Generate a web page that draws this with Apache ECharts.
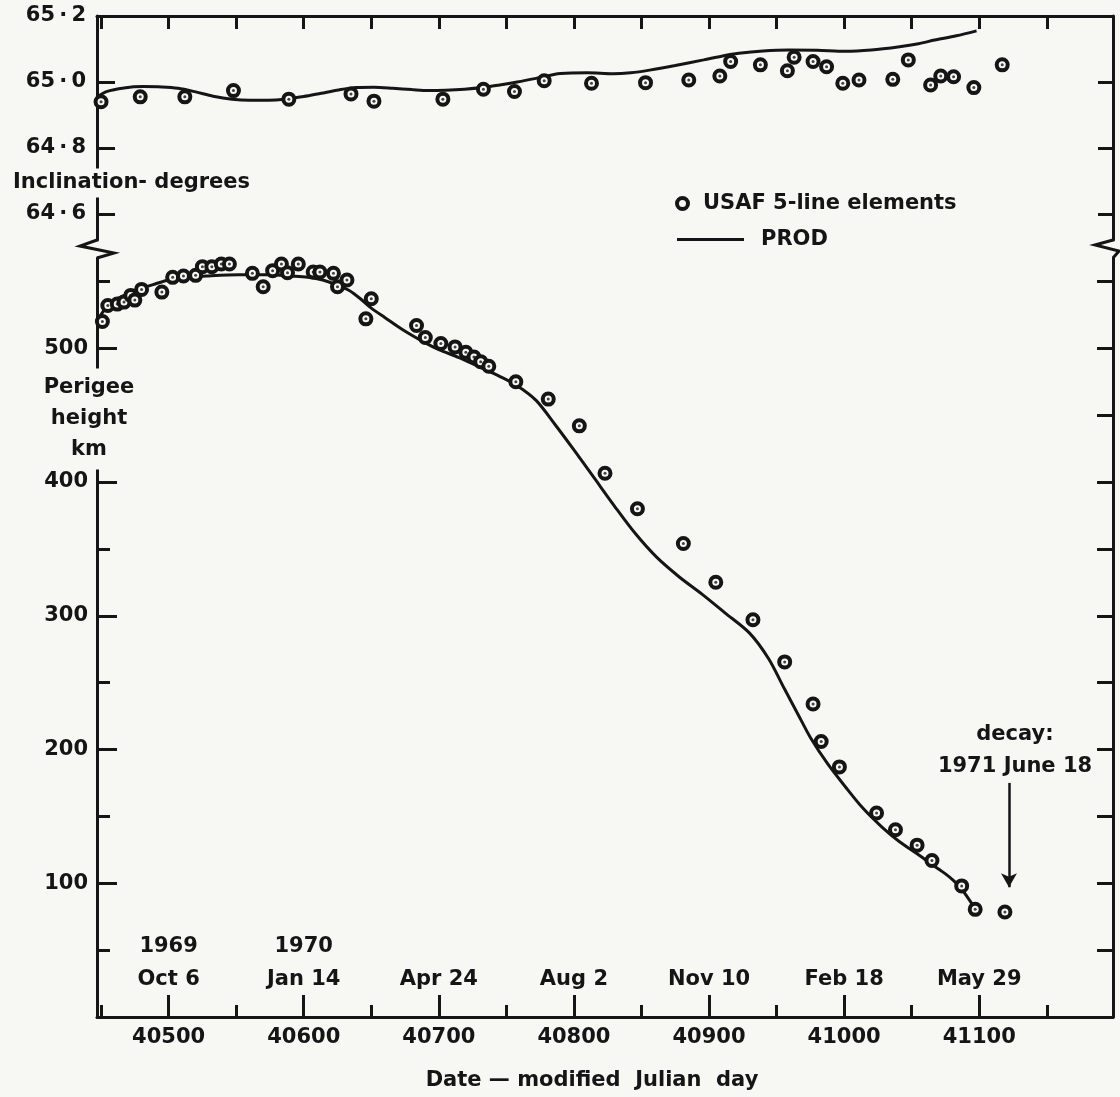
<!DOCTYPE html>
<html><head><meta charset="utf-8">
<script src="https://cdn.jsdelivr.net/npm/echarts@6/dist/echarts.min.js"></script>
<style>html,body{margin:0;padding:0;background:#f7f7f4}#c{width:1120px;height:1097px}</style>
</head><body><div id="c"></div>
<script>
// ---------------- data ----------------
const inclObsDay = [40450, 40479, 40512, 40548, 40589, 40635, 40652, 40703, 40733, 40756, 40778,
  40813, 40853, 40885, 40908, 40916, 40938, 40958, 40963, 40977, 40987, 40999, 41011, 41036, 41047.5,
  41064, 41071.5, 41081, 41096, 41117];
const inclObsDeg = [64.940, 64.955, 64.955, 64.974, 64.948, 64.964, 64.942, 64.948, 64.978, 64.971, 65.004,
  64.996, 64.998, 65.006, 65.018, 65.062, 65.052, 65.034, 65.075, 65.062, 65.046, 64.996, 65.006, 65.008, 65.067,
  64.991, 65.018, 65.016, 64.983, 65.052];

const inclFitDay = [40447, 40454, 40467, 40481, 40495, 40507, 40520, 40533, 40547, 40560, 40574, 40586,
  40600, 40613, 40626, 40639, 40652, 40666, 40680, 40692, 40705, 40719, 40732, 40745, 40758, 40772, 40790,
  40810, 40829, 40842, 40856, 40875, 40896, 40910, 40922, 40940, 40959, 40980, 41001, 41020, 41041, 41055,
  41067, 41083, 41098];
const inclFitDeg = [64.955, 64.971, 64.982, 64.986, 64.985, 64.981, 64.970, 64.957, 64.948, 64.945, 64.945, 64.948,
  64.956, 64.966, 64.976, 64.983, 64.984, 64.981, 64.977, 64.974, 64.975, 64.978, 64.983, 64.991, 65.000, 65.011, 65.026,
  65.028, 65.025, 65.028, 65.036, 65.050, 65.067, 65.079, 65.087, 65.094, 65.097, 65.096, 65.093, 65.097, 65.107, 65.116,
  65.127, 65.140, 65.155];

const periObsDay = [40451, 40455, 40462, 40467, 40472, 40475, 40480, 40495, 40503, 40511, 40520, 40525, 40532,
  40539, 40545, 40562, 40570, 40577, 40583.5, 40588, 40596, 40607, 40612, 40622, 40625, 40632, 40646, 40650,
  40683.5, 40690, 40701.5, 40712, 40720, 40726, 40731, 40737, 40757, 40781, 40804, 40823, 40847, 40881, 40905,
  40932.5, 40956, 40977, 40983, 40996.5, 41024, 41038, 41054, 41065, 41087, 41097, 41119];
const periObsKm = [520, 532, 533, 534.5, 539.5, 536, 544, 542, 553, 554, 554.5, 561, 561,
  563, 563, 556, 546, 558, 563, 556.5, 563, 557, 557, 556, 546, 551, 522, 537,
  517, 508, 503.5, 501, 497, 493.5, 490, 486.5, 475, 462, 442, 406.5, 380, 354, 325,
  297, 265.5, 234, 206, 187, 152.5, 140, 128.5, 117, 98, 80.5, 78.5];

const periFitDay = [40448, 40456, 40466, 40478, 40490, 40500, 40515, 40528, 40552, 40575, 40590, 40603, 40614,
  40625, 40634, 40642, 40650, 40660, 40673, 40690, 40700, 40715, 40730, 40745, 40758, 40772, 40786, 40800,
  40815, 40830, 40845, 40861, 40878, 40895, 40912, 40930, 40944, 40956, 40966, 40975, 40988, 41001, 41014,
  41028, 41041, 41054, 41065, 41075, 41081, 41086, 41091, 41097];
const periFitKm = [522, 533, 539, 544, 548, 551, 553, 554, 555, 555, 554, 553, 551,
  547, 543, 537, 530, 523, 514, 504, 499, 493, 486, 479, 472, 461, 443, 424,
  403, 382, 362, 344, 329, 316, 302, 287, 268, 245, 226, 209, 189, 172, 156,
  142, 131, 122, 114, 107, 102, 97, 90, 81];

const mjdMajorTicks = [40500, 40600, 40700, 40800, 40900, 41000, 41100];
const mjdMinorTicks = [40450, 40500, 40550, 40600, 40650, 40700, 40750, 40800, 40850, 40900, 40950, 41000, 41050, 41100, 41150];
const dateLabels = ['Oct 6', 'Jan 14', 'Apr 24', 'Aug 2', 'Nov 10', 'Feb 18', 'May 29'];
const yearLabels = ['1969', '1970', '', '', '', '', ''];
const inclTicks = [64.6, 64.8, 65.0];
const inclLabels = [64.6, 64.8, 65.0, 65.2];
const periMajorTicks = [100, 200, 300, 400, 500];
const periMinorTicks = [50, 150, 250, 350, 450, 550];
const periRightTicks = [50, 100, 150, 200, 250, 300, 350, 400, 450, 500, 550];
const decayArrow = { day: 41122, fromKm: 175, toKm: 97 };

// ---------------- layout / style ----------------
const INK = '#151515', BG = '#f7f7f4';
const FONT = 'DejaVu Sans';
const FS = 21;
const X_MIN = 40447, X_MAX = 41199;
const INCL_MAX = 65.2, INCL_MIN = 65.2 - (240 - 16) / 330;
const PERI_MIN = 0, PERI_MAX = (1017 - 258) / 1.3375;

const zip = (a, b) => a.map((v, i) => [v, b[i]]);
const lineS = { color: INK, width: 3 };
const noSplit = { show: false };
const txt = { color: INK, fontFamily: FONT, fontWeight: 'bold', fontSize: FS };
const gfont = 'bold ' + FS + 'px "' + FONT + '"';

const chart = echarts.init(document.getElementById('c'), null, { renderer: 'canvas' });
const gridBase = { left: 97, right: 7, outerBoundsMode: 'none', containLabel: false };
const ring = { color: BG, borderColor: INK, borderWidth: 4, opacity: 1 };

const option = {
  backgroundColor: BG,
  animation: false,
  grid: [
    Object.assign({ top: 16, height: 224 }, gridBase),
    Object.assign({ top: 258, bottom: 80 }, gridBase),
    Object.assign({ top: 258, bottom: 80 }, gridBase),
    Object.assign({ top: 258, bottom: 80 }, gridBase)
  ],
  xAxis: [
    { gridIndex: 0, type: 'value', position: 'top', min: X_MIN, max: X_MAX,
      axisLine: { show: true, lineStyle: lineS },
      axisTick: { show: true, inside: true, length: 13, lineStyle: lineS, customValues: mjdMinorTicks },
      axisLabel: { show: false }, splitLine: noSplit },
    { gridIndex: 1, type: 'value', position: 'bottom', min: X_MIN, max: X_MAX,
      axisLine: { show: true, lineStyle: lineS },
      axisTick: { show: true, inside: true, length: 22, lineStyle: lineS, customValues: mjdMajorTicks },
      axisLabel: Object.assign({ show: true, margin: 10, customValues: mjdMajorTicks, formatter: v => String(v) }, txt),
      splitLine: noSplit },
    { gridIndex: 2, type: 'value', position: 'bottom', min: X_MIN, max: X_MAX,
      axisLine: { show: false },
      axisTick: { show: true, inside: true, length: 12, lineStyle: lineS, customValues: mjdMinorTicks },
      axisLabel: { show: false }, splitLine: noSplit },
    { gridIndex: 3, type: 'value', position: 'bottom', min: X_MIN, max: X_MAX,
      axisLine: { show: false }, axisTick: { show: false },
      axisLabel: { show: true, inside: true, margin: 21, customValues: mjdMajorTicks,
        formatter: v => {
          const i = mjdMajorTicks.indexOf(Math.round(v));
          if (i < 0) return '';
          return (yearLabels[i] ? '{a|' + yearLabels[i] + '}\n' : '') + '{a|' + dateLabels[i] + '}';
        },
        rich: { a: Object.assign({ lineHeight: 33, align: 'center' }, txt) } },
      splitLine: noSplit }
  ],
  yAxis: [
    { gridIndex: 0, type: 'value', position: 'left', min: INCL_MIN, max: INCL_MAX,
      axisLine: { show: true, lineStyle: lineS },
      axisTick: { show: true, inside: true, length: 18, lineStyle: lineS, customValues: inclTicks },
      axisLabel: Object.assign({ show: true, margin: 11, customValues: inclLabels,
        formatter: v => v.toFixed(1).replace('.', '\u2009·\u2009') }, txt),
      splitLine: noSplit },
    { gridIndex: 0, type: 'value', position: 'right', min: INCL_MIN, max: INCL_MAX,
      axisLine: { show: true, lineStyle: lineS },
      axisTick: { show: true, inside: true, length: 15, lineStyle: lineS, customValues: inclTicks },
      axisLabel: { show: false }, splitLine: noSplit },
    { gridIndex: 1, type: 'value', position: 'left', min: PERI_MIN, max: PERI_MAX,
      axisLine: { show: true, lineStyle: lineS },
      axisTick: { show: true, inside: true, length: 20, lineStyle: lineS, customValues: periMajorTicks },
      axisLabel: Object.assign({ show: true, margin: 9, customValues: periMajorTicks, formatter: v => String(v) }, txt),
      splitLine: noSplit },
    { gridIndex: 1, type: 'value', position: 'right', min: PERI_MIN, max: PERI_MAX,
      axisLine: { show: true, lineStyle: lineS },
      axisTick: { show: true, inside: true, length: 16, lineStyle: lineS, customValues: periRightTicks },
      axisLabel: { show: false }, splitLine: noSplit },
    { gridIndex: 2, type: 'value', position: 'left', min: PERI_MIN, max: PERI_MAX,
      axisLine: { show: false },
      axisTick: { show: true, inside: true, length: 13, lineStyle: lineS, customValues: periMinorTicks },
      axisLabel: { show: false }, splitLine: noSplit },
    { gridIndex: 3, type: 'value', show: false, min: PERI_MIN, max: PERI_MAX, splitLine: noSplit }
  ],
  legend: [
    { data: [{ name: 'USAF 5-line elements', icon: 'circle', itemStyle: ring }], left: 670, top: 188,
      itemWidth: 31, itemHeight: 11, selectedMode: false, textStyle: Object.assign({}, txt) },
    { data: [{ name: 'PROD', icon: 'rect', itemStyle: { color: INK } }], left: 672, top: 224,
      itemWidth: 67, itemHeight: 3, selectedMode: false, textStyle: Object.assign({ padding: [0, 0, 0, 12] }, txt) }
  ],
  series: [
    { name: 'PROD', type: 'line', xAxisIndex: 0, yAxisIndex: 0, data: zip(inclFitDay, inclFitDeg),
      showSymbol: false, symbol: 'none', smooth: 0.3, lineStyle: { color: INK, width: 3 }, itemStyle: { color: INK }, z: 2 },
    { name: 'PROD', type: 'line', xAxisIndex: 1, yAxisIndex: 2, data: zip(periFitDay, periFitKm),
      showSymbol: false, symbol: 'none', smooth: 0.3, lineStyle: { color: INK, width: 3 }, itemStyle: { color: INK }, z: 2 },
    { name: 'USAF 5-line elements', type: 'scatter', xAxisIndex: 0, yAxisIndex: 0, data: zip(inclObsDay, inclObsDeg),
      symbol: 'circle', symbolSize: 11, itemStyle: ring, z: 3 },
    { name: 'USAF 5-line elements', type: 'scatter', xAxisIndex: 1, yAxisIndex: 2, data: zip(periObsDay, periObsKm),
      symbol: 'circle', symbolSize: 11, itemStyle: ring, z: 3,
      markLine: { silent: true, symbol: ['none', 'arrow'], symbolSize: [12, 14],
        lineStyle: { color: INK, width: 2.5, type: 'solid' }, label: { show: false },
        data: [[{ coord: [decayArrow.day, decayArrow.fromKm] }, { coord: [decayArrow.day, decayArrow.toKm] }]] } },
    { name: 'centre-incl', type: 'scatter', xAxisIndex: 0, yAxisIndex: 0, data: zip(inclObsDay, inclObsDeg),
      symbol: 'circle', symbolSize: 3, itemStyle: { color: INK }, z: 4 },
    { name: 'centre-peri', type: 'scatter', xAxisIndex: 1, yAxisIndex: 2, data: zip(periObsDay, periObsKm),
      symbol: 'circle', symbolSize: 3, itemStyle: { color: INK }, z: 4 }
  ],
  graphic: [
    { type: 'polyline', z: 100, shape: { points: [[97, 240], [80, 246], [114, 253], [97, 258]] },
      style: { stroke: INK, lineWidth: 3, fill: null } },
    { type: 'polyline', z: 100, shape: { points: [[1113, 240], [1095, 245], [1119, 251], [1113, 258]] },
      style: { stroke: INK, lineWidth: 3, fill: null } },
    { type: 'text', z: 100, x: 11, y: 183,
      style: { text: 'Inclination- degrees', fill: INK, font: gfont,
        verticalAlign: 'middle', backgroundColor: BG, padding: [4, 2] } },
    { type: 'text', z: 100, x: 89, y: 419,
      style: { text: 'Perigee\nheight\nkm', fill: INK, font: gfont, lineHeight: 31,
        align: 'center', verticalAlign: 'middle', backgroundColor: BG, padding: [4, 2] } },
    { type: 'text', z: 100, x: 592, y: 1081,
      style: { text: 'Date \u2014 modified  Julian  day', fill: INK, font: gfont,
        align: 'center', verticalAlign: 'middle' } },
    { type: 'text', z: 100, x: 1015, y: 751,
      style: { text: 'decay:\n1971 June 18', fill: INK, font: gfont, lineHeight: 32,
        align: 'center', verticalAlign: 'middle' } }
  ]
};
chart.setOption(option);
</script>
</body></html>
